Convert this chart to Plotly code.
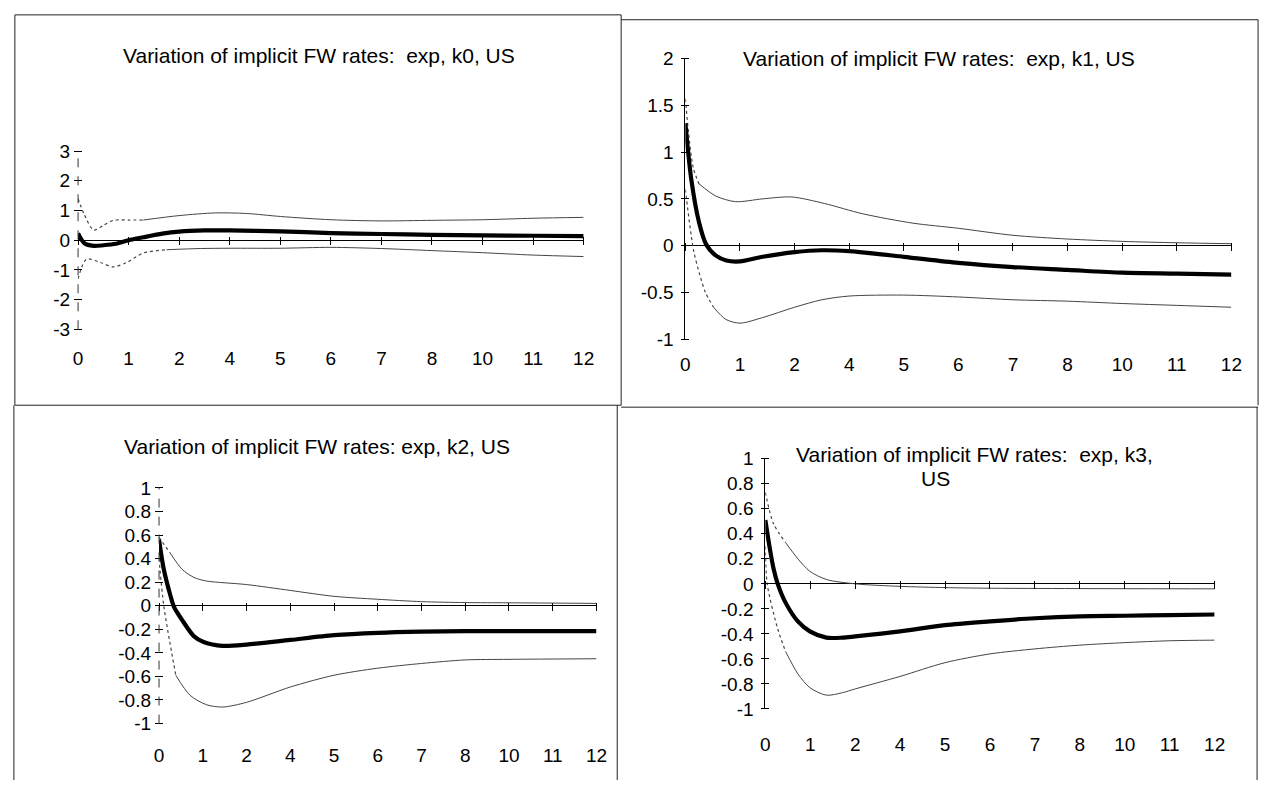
import plotly.graph_objects as go

W, H = 1275, 791
FONT = "Liberation Sans, Arial, sans-serif"

# ---------------- data ----------------
x_tick_pos = [0, 1.2, 2.4, 3.6, 4.8, 6.0, 7.2, 8.4, 9.6, 10.8, 12.0]
x_tick_labels = ["0", "1", "2", "4", "5", "6", "7", "8", "10", "11", "12"]

titles = [
    "Variation of implicit FW rates:  exp, k0, US",
    "Variation of implicit FW rates:  exp, k1, US",
    "Variation of implicit FW rates: exp, k2, US",
    "Variation of implicit FW rates:  exp, k3,",
]
title_k3_line2 = "US"

# k0
k0_mid_x = [0, 0.15, 0.37, 0.6, 0.9, 1.2, 1.55, 2.0, 2.4, 3.0, 3.6, 4.8, 6.0, 7.2, 8.4, 9.6, 10.8, 12]
k0_mid_y = [0.23, -0.1, -0.19, -0.17, -0.12, 0.0, 0.1, 0.22, 0.29, 0.33, 0.33, 0.3, 0.24, 0.21, 0.18, 0.16, 0.15, 0.14]
k0_up_x = [0, 0.14, 0.37, 0.6, 0.84, 1.2, 1.55, 2.4, 3.26, 4.0, 4.8, 6.0, 7.2, 8.4, 9.6, 10.8, 12]
k0_up_y = [1.4, 0.89, 0.34, 0.5, 0.67, 0.68, 0.68, 0.83, 0.92, 0.9, 0.8, 0.69, 0.65, 0.67, 0.69, 0.74, 0.77]
k0_lo_x = [0, 0.2, 0.53, 0.84, 1.15, 1.55, 2.1, 2.9, 3.6, 4.8, 6.0, 7.2, 8.4, 9.6, 10.8, 12]
k0_lo_y = [-1.3, -0.64, -0.75, -0.9, -0.75, -0.43, -0.32, -0.28, -0.27, -0.27, -0.24, -0.28, -0.35, -0.42, -0.5, -0.55]

# k1
k1_mid_x = [0, 0.13, 0.3, 0.46, 0.65, 0.9, 1.2, 1.7, 2.4, 3.0, 3.6, 4.8, 6.0, 7.2, 8.4, 9.6, 10.8, 12]
k1_mid_y = [1.31, 0.71, 0.25, 0.01, -0.1, -0.16, -0.17, -0.12, -0.07, -0.05, -0.06, -0.12, -0.185, -0.23, -0.26, -0.29, -0.3, -0.31]
k1_up_x = [0, 0.17, 0.3, 0.67, 1.1, 1.7, 2.34, 3.06, 3.9, 5.0, 6.0, 7.2, 8.4, 9.6, 10.8, 12]
k1_up_y = [1.57, 0.84, 0.66, 0.53, 0.47, 0.5, 0.52, 0.45, 0.34, 0.24, 0.185, 0.11, 0.07, 0.045, 0.03, 0.02]
k1_lo_x = [0, 0.18, 0.31, 0.44, 0.62, 0.89, 1.2, 1.7, 2.4, 3.0, 3.6, 4.8, 6.0, 7.2, 8.4, 9.6, 10.8, 12]
k1_lo_y = [0.6, -0.05, -0.3, -0.5, -0.66, -0.79, -0.83, -0.77, -0.66, -0.58, -0.54, -0.53, -0.55, -0.58, -0.595, -0.62, -0.64, -0.66]

# k2
k2_mid_x = [0, 0.13, 0.3, 0.41, 0.63, 0.96, 1.24, 1.74, 2.4, 3.6, 4.8, 6.0, 7.2, 8.4, 9.6, 10.8, 12]
k2_mid_y = [0.56, 0.31, 0.1, -0.01, -0.12, -0.26, -0.31, -0.34, -0.33, -0.29, -0.25, -0.23, -0.22, -0.215, -0.215, -0.215, -0.215]
k2_up_x = [0, 0.3, 0.63, 0.96, 1.3, 2.4, 3.6, 4.8, 6.0, 7.2, 8.4, 9.6, 12]
k2_up_y = [0.58, 0.45, 0.31, 0.24, 0.21, 0.18, 0.13, 0.08, 0.055, 0.035, 0.027, 0.025, 0.02]
k2_lo_x = [0, 0.13, 0.46, 0.85, 1.3, 1.74, 2.4, 3.6, 4.8, 6.0, 7.2, 8.4, 9.6, 12]
k2_lo_y = [0.4, 0.0, -0.59, -0.76, -0.84, -0.86, -0.82, -0.69, -0.59, -0.53, -0.49, -0.46, -0.455, -0.45]

# k3
k3_mid_x = [0, 0.11, 0.22, 0.33, 0.54, 0.87, 1.19, 1.63, 2.06, 2.4, 3.6, 4.8, 6.0, 7.2, 8.4, 9.6, 10.8, 12]
k3_mid_y = [0.51, 0.3, 0.12, 0.0, -0.15, -0.3, -0.38, -0.43, -0.43, -0.42, -0.38, -0.33, -0.3, -0.275, -0.26, -0.255, -0.25, -0.245]
k3_up_x = [0, 0.22, 0.54, 0.87, 1.19, 1.63, 2.4, 3.6, 4.8, 6.0, 12]
k3_up_y = [0.73, 0.48, 0.33, 0.2, 0.1, 0.035, 0.0, -0.02, -0.03, -0.035, -0.04]
k3_lo_x = [0, 0.05, 0.33, 0.54, 0.87, 1.19, 1.63, 2.06, 2.4, 3.6, 4.8, 6.0, 7.2, 8.4, 9.6, 10.8, 12]
k3_lo_y = [0.3, 0.0, -0.36, -0.54, -0.72, -0.83, -0.89, -0.87, -0.84, -0.74, -0.63, -0.56, -0.52, -0.49, -0.47, -0.455, -0.45]

y_ticks_k0 = [-3, -2, -1, 0, 1, 2, 3]
y_labels_k0 = ["-3", "-2", "-1", "0", "1", "2", "3"]
y_ticks_k1 = [-1, -0.5, 0, 0.5, 1, 1.5, 2]
y_labels_k1 = ["-1", "-0.5", "0", "0.5", "1", "1.5", "2"]
y_ticks_k23 = [-1, -0.8, -0.6, -0.4, -0.2, 0, 0.2, 0.4, 0.6, 0.8, 1]
y_labels_k23 = ["-1", "-0.8", "-0.6", "-0.4", "-0.2", "0", "0.2", "0.4", "0.6", "0.8", "1"]

# ---------------- layout geometry / style (pixels) ----------------
# dot_up / dot_lo: maturity up to which the faint band is drawn dotted (scan look)
panels = [
    dict(series=(k0_mid_x, k0_mid_y, k0_up_x, k0_up_y, k0_lo_x, k0_lo_y),
         yr=[-3, 3], yt=y_ticks_k0, yl=y_labels_k0, dot_up=1.55, dot_lo=2.1, axis_dash=True,
         px=(74, 586), py=(145, 328), xstand=16, title_xy=(318, 47)),
    dict(series=(k1_mid_x, k1_mid_y, k1_up_x, k1_up_y, k1_lo_x, k1_lo_y),
         yr=[-1, 2], yt=y_ticks_k1, yl=y_labels_k1, dot_up=0.3, dot_lo=0.62, axis_dash=False,
         px=(689, 1242), py=(50, 338), xstand=12, title_xy=(946, 50)),
    dict(series=(k2_mid_x, k2_mid_y, k2_up_x, k2_up_y, k2_lo_x, k2_lo_y),
         yr=[-1, 1], yt=y_ticks_k23, yl=y_labels_k23, dot_up=0.3, dot_lo=0.46, axis_dash=True,
         px=(156, 599), py=(491, 733), xstand=18, title_xy=(316, 448)),
    dict(series=(k3_mid_x, k3_mid_y, k3_up_x, k3_up_y, k3_lo_x, k3_lo_y),
         yr=[-1, 1], yt=y_ticks_k23, yl=y_labels_k23, dot_up=0.54, dot_lo=0.54, axis_dash=False,
         px=(770, 1225), py=(461, 718), xstand=22, title_xy=(982, 457)),
]


def px2x(v):
    return v / W


def px2y(v):
    return 1 - v / H


fig = go.Figure()
layout = dict(
    width=W, height=H, margin=dict(l=0, r=0, t=0, b=0),
    paper_bgcolor="white", plot_bgcolor="rgba(0,0,0,0)",
    showlegend=False, font=dict(family=FONT, color="black", size=19),
)
annotations = []
shapes = []

TICK_FONT = dict(family=FONT, size=19, color="black")
TITLE_FONT = dict(family=FONT, size=21, color="black")
BAND_COL = "#444444"


def add_band(xs, ys, cut, xa, ya):
    head_x = [v for v in xs if v <= cut]
    head_y = ys[:len(head_x)]
    tail_x = xs[len(head_x) - 1:]
    tail_y = ys[len(head_x) - 1:]
    fig.add_trace(go.Scatter(x=head_x, y=head_y, mode="lines", xaxis=xa, yaxis=ya,
                             line=dict(color=BAND_COL, width=1.2, dash="dot", shape="spline", smoothing=0.8),
                             hoverinfo="skip"))
    fig.add_trace(go.Scatter(x=tail_x, y=tail_y, mode="lines", xaxis=xa, yaxis=ya,
                             line=dict(color=BAND_COL, width=1, shape="spline", smoothing=0.8),
                             hoverinfo="skip"))


for i, p in enumerate(panels):
    n = i + 1
    xa, ya = f"x{n}", f"y{n}"
    xo, yo = f"x{n + 4}", f"y{n + 4}"
    xd = [px2x(p["px"][0]), px2x(p["px"][1])]
    yd = [px2y(p["py"][1]), px2y(p["py"][0])]
    mx, my, ux, uy, lx, ly = p["series"]

    add_band(ux, uy, p["dot_up"], xa, ya)
    add_band(lx, ly, p["dot_lo"], xa, ya)
    fig.add_trace(go.Scatter(x=mx, y=my, mode="lines", xaxis=xa, yaxis=ya,
                             line=dict(color="black", width=4.2, shape="spline", smoothing=0.8),
                             hoverinfo="skip"))
    # dummy traces so the overlay tick axes render
    fig.add_trace(go.Scatter(x=[None], y=[None], xaxis=xo, yaxis=ya, hoverinfo="skip"))
    fig.add_trace(go.Scatter(x=[None], y=[None], xaxis=xa, yaxis=yo, hoverinfo="skip"))

    y0, y1 = p["yr"]
    zero_frac = (0 - y0) / (y1 - y0)
    zero_paper = yd[0] + zero_frac * (yd[1] - yd[0])

    sfx = "" if n == 1 else str(n)
    layout["xaxis" + sfx] = dict(
        domain=xd, anchor=ya, range=[0, 12], tickvals=x_tick_pos, ticktext=x_tick_labels,
        showline=False, ticks="", showgrid=False, zeroline=False,
        tickfont=TICK_FONT, ticklabelstandoff=p["xstand"], fixedrange=True,
    )
    layout["yaxis" + sfx] = dict(
        domain=yd, anchor=xa, range=p["yr"], tickvals=p["yt"], ticktext=p["yl"],
        showline=not p["axis_dash"], linecolor="black", linewidth=1, ticks="", showgrid=False,
        zeroline=True, zerolinecolor="black", zerolinewidth=1,
        tickfont=TICK_FONT, ticklabelstandoff=7, fixedrange=True,
    )
    if p["axis_dash"]:
        shapes.append(dict(type="line", xref="paper", yref="paper",
                           x0=xd[0], x1=xd[0], y0=yd[0], y1=yd[1],
                           line=dict(color="#333333", width=1, dash="dash")))
    # crossing tick marks on the zero line
    layout[f"xaxis{n + 4}"] = dict(
        overlaying=xa, anchor="free", position=zero_paper + 4 / H, range=[0, 12],
        tickvals=x_tick_pos, showticklabels=False, ticks="outside", ticklen=8,
        tickcolor="black", tickwidth=1, showline=False, showgrid=False, zeroline=False,
        fixedrange=True,
    )
    # crossing tick marks on the y axis
    layout[f"yaxis{n + 4}"] = dict(
        overlaying=ya, anchor="free", position=xd[0] + 4 / W, range=p["yr"],
        tickvals=p["yt"], showticklabels=False, ticks="outside", ticklen=8,
        tickcolor="black", tickwidth=1, showline=False, showgrid=False, zeroline=False,
        fixedrange=True,
    )

    tx, ty = p["title_xy"]
    annotations.append(dict(
        x=px2x(tx), y=px2y(ty), xref="paper", yref="paper", text=titles[i],
        showarrow=False, xanchor="center", yanchor="middle", font=TITLE_FONT,
    ))

annotations.append(dict(
    x=px2x(942), y=px2y(481), xref="paper", yref="paper", text=title_k3_line2,
    showarrow=False, xanchor="center", yanchor="middle", font=TITLE_FONT,
))

# panel frames
border_lines = [
    (10, 5, 624, 5), (624, 10, 1269, 10),
    (10, 5, 10, 406), (9, 406, 9, 791),
    (624, 5, 624, 406), (620, 406, 620, 791),
    (1269, 10, 1269, 406), (1268, 408, 1268, 791),
    (10, 406, 624, 406), (624, 408, 1269, 408),
]
for (ax0, ay0, ax1, ay1) in border_lines:
    shapes.append(dict(type="line", xref="paper", yref="paper",
                       x0=px2x(ax0), y0=px2y(ay0), x1=px2x(ax1), y1=px2y(ay1),
                       line=dict(color="#222222", width=1)))

layout["annotations"] = annotations
layout["shapes"] = shapes
fig.update_layout(**layout)
fig.write_html("out.html")
